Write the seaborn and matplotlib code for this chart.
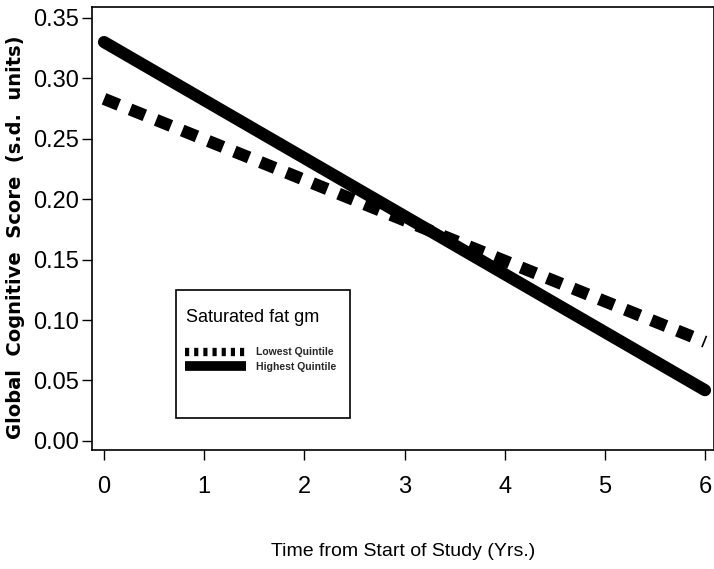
import matplotlib
matplotlib.use("Agg")
import matplotlib.pyplot as plt
import matplotlib.patches as mpatches
import seaborn as sns
import pandas as pd

# data
years = [0, 6]
lowest_quintile = [0.283, 0.082]
highest_quintile = [0.330, 0.042]
x_ticks = [0, 1, 2, 3, 4, 5, 6]
y_ticks = [0.00, 0.05, 0.10, 0.15, 0.20, 0.25, 0.30, 0.35]
series_names = ["Lowest Quintile", "Highest Quintile"]

df = pd.DataFrame({
    "year": years * 2,
    "score": lowest_quintile + highest_quintile,
    "group": [series_names[0]] * len(years) + [series_names[1]] * len(years),
})

sns.set_theme(style="ticks")
plt.rcParams["font.family"] = ["Liberation Sans", "DejaVu Sans"]

fig = plt.figure(figsize=(7.14, 5.69), dpi=100)
ax = fig.add_axes([92 / 714, 1 - 450 / 569, 622 / 714, 443 / 569])

sns.lineplot(data=df, x="year", y="score", hue="group", style="group",
             palette=["black", "black"], dashes=[(1.3, 1.0), ""],
             linewidth=8.8, ax=ax, legend=False)
for ln in ax.get_lines():
    ln.set_solid_capstyle("round")
    ln.set_dash_capstyle("butt")

ax.set_xlim(-0.12, 6.09)
ax.set_ylim(-0.0075, 0.359)
ax.set_xticks(x_ticks)
ax.set_xticklabels([str(t) for t in x_ticks])
ax.set_yticks(y_ticks)
ax.set_yticklabels([f"{t:.2f}" for t in y_ticks])
ax.tick_params(axis="both", labelsize=17, length=7, width=1, color="black", labelcolor="black")
ax.tick_params(axis="x", pad=12)
ax.tick_params(axis="y", pad=2)
for s in ax.spines.values():
    s.set_color("black")
    s.set_linewidth(1.2)

ax.set_xlabel("Time from Start of Study (Yrs.)", fontsize=14, labelpad=32, color="black")
fig.text(16 / 714, 1 - 237 / 569, "Global  Cognitive  Score  (s.d.  units)", rotation=90,
         ha="center", va="center", fontsize=14, fontweight="bold",
         family=["DejaVu Sans"], color="black")
ax.set_ylabel("")

# legend box
box = mpatches.Rectangle(((176 - 92) / 622, (450 - 418) / 443), 174 / 622, 128 / 443,
                         transform=ax.transAxes, facecolor="white", edgecolor="black",
                         linewidth=1.2, zorder=5)
ax.add_patch(box)
ax.text((186 - 92) / 622, (450 - 318) / 443, "Saturated fat gm", transform=ax.transAxes,
        fontsize=13, va="center", ha="left", zorder=6, color="black")
h_low = plt.Line2D([], [], color="black", linewidth=6, dashes=(0.5, 0.6), dash_capstyle="butt")
h_high = plt.Line2D([], [], color="black", linewidth=7, solid_capstyle="butt")
leg = ax.legend([h_low, h_high], series_names, loc="upper left",
                bbox_to_anchor=((178 - 92) / 622, (450 - 340) / 443),
                frameon=False, fontsize=7.5, handlelength=5.8, handletextpad=1.0,
                labelspacing=0.45, borderpad=0.2)
for t in leg.get_texts():
    t.set_fontweight("bold")
leg.set_zorder(7)

fig.savefig("out.png", dpi=100)
